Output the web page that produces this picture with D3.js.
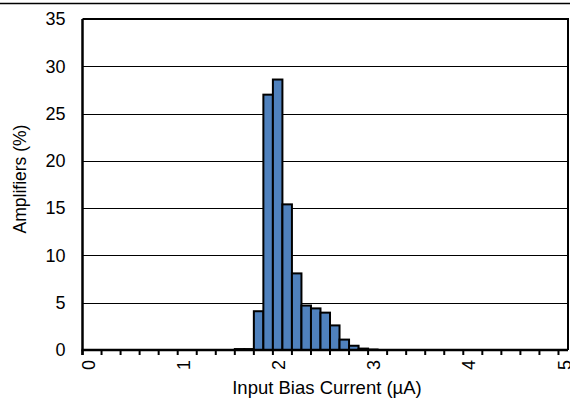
<!DOCTYPE html>
<html>
<head>
<meta charset="utf-8">
<script src="https://cdn.jsdelivr.net/npm/d3@7"></script>
<style>
  html, body { margin: 0; padding: 0; background: #fff; }
  svg { display: block; }
  text { font-family: "Liberation Sans", Arial, Helvetica, sans-serif; fill: #000; }
</style>
</head>
<body>
<svg id="chart" width="570" height="399"></svg>
<script>
// Bin centres (µA), 0.0 .. 5.0 step 0.1
const categories = ["0.0","0.1","0.2","0.3","0.4","0.5","0.6","0.7","0.8","0.9",
  "1.0","1.1","1.2","1.3","1.4","1.5","1.6","1.7","1.8","1.9",
  "2.0","2.1","2.2","2.3","2.4","2.5","2.6","2.7","2.8","2.9",
  "3.0","3.1","3.2","3.3","3.4","3.5","3.6","3.7","3.8","3.9",
  "4.0","4.1","4.2","4.3","4.4","4.5","4.6","4.7","4.8","4.9","5.0"];
// Amplifiers (%) per bin
const amplifiers = [0,0,0,0,0,0,0,0,0,0,
  0,0,0,0,0,0,0.1,0.1,4.1,27.0,
  28.6,15.4,8.1,4.7,4.4,3.95,2.6,1.1,0.45,0.15,
  0.05,0,0,0,0,0,0,0,0,0,
  0,0,0,0,0,0,0,0,0,0,0];
const yTicks = [0,5,10,15,20,25,30,35];
const xLabels = ["0","1","2","3","4","5"];
const xLabelCats = ["0.0","1.0","2.0","3.0","4.0","5.0"];
const xTitle = "Input Bias Current (µA)";
const yTitle = "Amplifiers (%)";

const svg = d3.select("#chart");
const L = 82.5, R = 568, T = 19, B = 350;

const x = d3.scaleBand().domain(categories).range([L, R]).padding(0);
const y = d3.scaleLinear().domain([0, 35]).range([B, T]);

// top separator line
svg.append("line").attr("x1", 0).attr("x2", 570).attr("y1", 3.5).attr("y2", 3.5)
  .attr("stroke", "#000").attr("stroke-width", 1.3);

// gridlines
svg.append("g").selectAll("line").data(yTicks.filter(d => d > 0 && d < 35)).join("line")
  .attr("x1", L).attr("x2", R)
  .attr("y1", d => Math.round(y(d)) + 0.5).attr("y2", d => Math.round(y(d)) + 0.5)
  .attr("stroke", "#000").attr("stroke-width", 1);

// bars
svg.append("g").selectAll("rect").data(categories.map((c, i) => ({c, v: amplifiers[i]})).filter(d => d.v > 0))
  .join("rect")
  .attr("x", d => x(d.c))
  .attr("width", x.bandwidth())
  .attr("y", d => y(d.v))
  .attr("height", d => y(0) - y(d.v))
  .attr("fill", "#4F81BD")
  .attr("stroke", "#000")
  .attr("stroke-width", 2);

// plot border (top + right)
svg.append("path")
  .attr("d", `M${L},${T}H${R}V${B}`)
  .attr("fill", "none").attr("stroke", "#000").attr("stroke-width", 2);

// y axis
const yAxis = d3.axisLeft(y).tickValues(yTicks).tickSize(0).tickPadding(17);
const gy = svg.append("g").attr("transform", `translate(${L},0)`).call(yAxis);
gy.select(".domain").attr("stroke", "#000").attr("stroke-width", 2.5).attr("d", `M0,${T}V${B + 5}`);
gy.selectAll("text").style("font-size", "18px").attr("fill", "#000")
  .style("font-family", '"Liberation Sans", Arial, sans-serif');

// x axis: ticks every 2 categories at category boundaries
const tickBounds = d3.range(0, categories.length + 1, 2);
const gx = svg.append("g");
gx.append("line").attr("x1", L - 1).attr("x2", R).attr("y1", B).attr("y2", B)
  .attr("stroke", "#000").attr("stroke-width", 2.5);
gx.selectAll("line.tk").data(tickBounds).join("line").attr("class", "tk")
  .attr("x1", i => L + i * x.step()).attr("x2", i => L + i * x.step())
  .attr("y1", B).attr("y2", B + 5)
  .attr("stroke", "#000").attr("stroke-width", 2);
gx.selectAll("text").data(xLabels).join("text")
  .attr("transform", (d, i) => `translate(${x(xLabelCats[i]) + x.bandwidth() / 2 + 1},360) rotate(-90)`)
  .attr("text-anchor", "end")
  .attr("dy", "0.35em")
  .style("font-size", "18px")
  .text(d => d);

// titles
svg.append("text").attr("x", 327).attr("y", 394)
  .attr("text-anchor", "middle").style("font-size", "18.5px").text(xTitle);
svg.append("text").attr("transform", `translate(26,179) rotate(-90)`)
  .attr("text-anchor", "middle").style("font-size", "17.5px").text(yTitle);
</script>
</body>
</html>
